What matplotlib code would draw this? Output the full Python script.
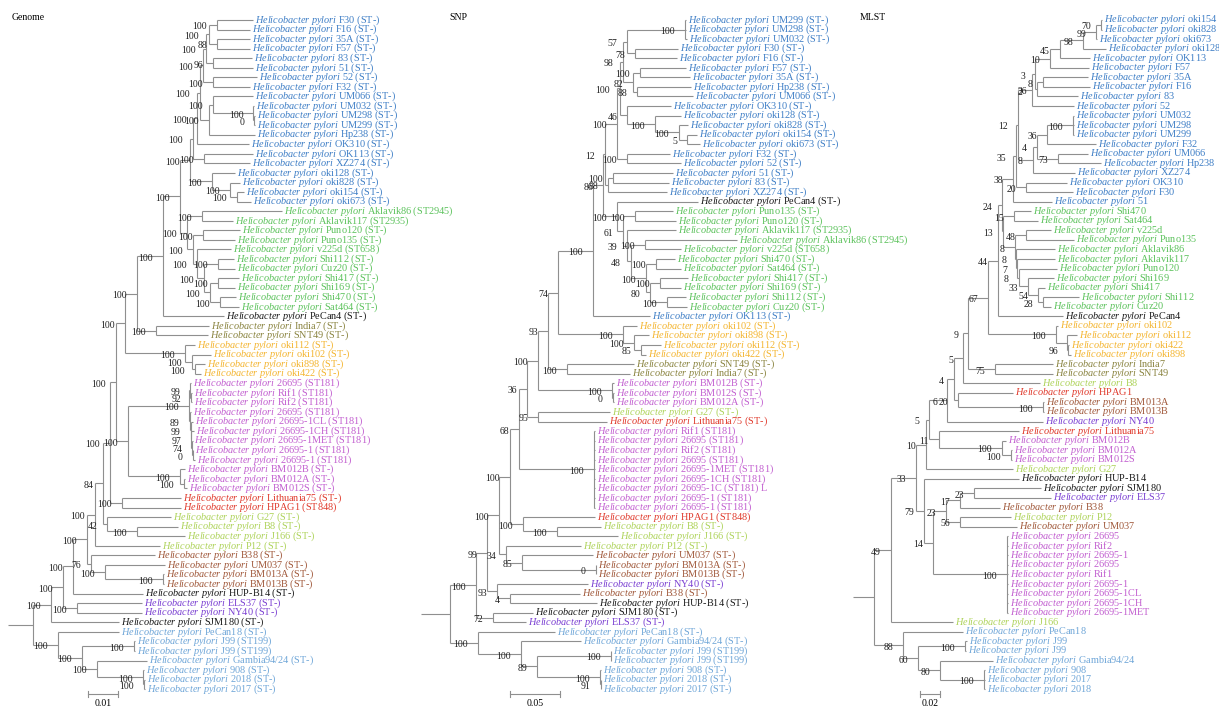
import matplotlib
matplotlib.use("Agg")
import matplotlib.pyplot as plt
from matplotlib.collections import LineCollection

plt.rcParams['font.family'] = ['Liberation Serif', 'DejaVu Serif']
plt.rcParams['mathtext.fontset'] = 'custom'
plt.rcParams['mathtext.rm'] = 'Liberation Serif'
plt.rcParams['mathtext.it'] = 'Liberation Serif:italic'

# ---------------- data: trees (newick, branch lengths, bootstrap values) ----------------
# Genome tree
G_BLUE_A3 = "((F30:0.0120,F16:0.0110)100:0.0027,(35A:0.0110,F57:0.0110)88:0.0027)100"
G_BLUE_A5 = "((" + G_BLUE_A3 + ":0.0010,(83:0.0130,51:0.0133)96:0.0023)100:0.0010,(52:0.0147,F32:0.0123)100:0.0033)100"
G_BLUE_D2 = "((UM066:0.0133,(UM032:0.0003,(UM298:0.0002,UM299:0.0002)0:0.0002)100:0.0135)100:0.0013,Hp238:0.0153)100"
G_BLUE_H = "((" + G_BLUE_A5 + ":0.0010," + G_BLUE_D2 + ":0.0030)100:0.0010,OK310:0.0173)100"
G_BLUE_I = "(" + G_BLUE_H + ":0.0013,(OK113:0.0163,XZ274:0.0153)100:0.0037)100"
G_OKI_E = "(oki128:0.0077,(oki828:0.0033,(oki154:0.0023,oki673:0.0047)100:0.0023)100:0.0060)100"
G_BLUE = "(" + G_BLUE_I + ":0.0010," + G_OKI_E + ":0.0073)100"
G_GREEN = ("((Aklavik86:0.0267,Aklavik117:0.0103)100:0.0050,((Puno120:0.0123,Puno135:0.0107)100:0.0033,"
           "(v225d:0.0113,((Shi112:0.0053,Cuz20:0.0057)100:0.0047,((Shi417:0.0070,Shi169:0.0057)100:0.0027,"
           "(Shi470:0.0053,Sat464:0.0063)100:0.0033)100:0.0020)100:0.0023)100:0.0013)100:0.0020)100")
G_K = ("(((" + G_BLUE + ":0.0033," + G_GREEN + ":0.0023)100:0.0057,PeCan4:0.0203)100:0.0087,"
       "(India7:0.0177,SNT49:0.0173)100:0.0063)100")
G_V1 = "(" + G_K + ":0.0040,(oki112:0.0033,(oki102:0.0063,(oki898:0.0033,oki422:0.0020)100:0.0010)100:0.0023)100:0.0200)100"
G_C26 = ("((26695:0.0002,(Rif1:0.0002,Rif2:0.0002)92:0.0003)99:0.0005,(26695:0.0003,(26695-1CL:0.0007,"
         "(26695-1CH:0.0008,(26695-1MET:0.0002,(26695-1:0.0002,26695-1:0.0008)0:0.0002)74:0.0002)97:0.0002)99:0.0003)89:0.0003)100")
G_M = "(" + G_C26 + ":0.0203,(BM012B:0.0017,(BM012A:0.0003,BM012S:0.0010)100:0.0013)100:0.0173)100"
G_N = "((" + G_V1 + ":0.0030," + G_M + ":0.0040)100:0.0020,(Lithuania75:0.0197,HPAG1:0.0197)100:0.0040)100"
G_W = "(" + G_N + ":0.0023,(G27:0.0213,(B8:0.0137,J166:0.0160)100:0.0100)42:0.0013)84"
G_T = ("((" + G_W + ":0.0027,P12:0.0217)100:0.0027,"
       "(B38:0.0213,(UM037:0.0200,(BM013A:0.0003,BM013B:0.0003)100:0.0193)100:0.0047)76:0.0013)100")
G_U0 = ("(((" + G_T + ":0.0047,HUP-B14:0.0233)100:0.0033,(ELS37:0.0217,NY40:0.0217)100:0.0047)100:0.0040,"
        "SJM180:0.0227)100")
G_L0 = ("(PeCan18:0.0203,((J99:0.0002,J99:0.0002)100:0.0175,(Gambia94/24:0.0167,(908:0.0002,"
        "(2018:0.0002,2017:0.0002)100:0.0003)100:0.0155)100:0.0050)100:0.0080)100")
GENOME = "(" + G_U0 + ":0.0060," + G_L0 + ":0.0083):0.0083;"

# SNP tree
S_A5 = ("(((UM299:0.001,UM298:0.001,UM032:0.002)100:0.058,(F30:0.043,F16:0.042)78:0.008)57:0.004,"
        "((F57:0.046,35A:0.050)100:0.007,(Hp238:0.054,UM066:0.056)88:0.004)82:0.010)98")
S_B4 = "(OK310:0.044,(oki128:0.026,(oki828:0.009,(oki154:0.010,oki673:0.013)5:0.008)100:0.024)100:0.028)46"
S_A8 = ("(((" + S_A5 + ":0.003," + S_B4 + ":0.007)100:0.003,(F32:0.043,52:0.054)100:0.010)100:0.012,"
        "((51:0.060,83:0.056)100:0.005,XZ274:0.059)88:0.003)12")
S_SH = ("((Shi470:0.019,Sat464:0.025)100:0.010,((Shi417:0.028,Shi169:0.021)100:0.010,"
        "(Shi112:0.019,Cuz20:0.020)100:0.017)80:0.004)100")
S_PG = ("(PeCan4:0.081,((Puno135:0.038,Puno120:0.041)100:0.012,(Aklavik117:0.049,"
        "((Aklavik86:0.092,v225d:0.036)100:0.014," + S_SH + ":0.015)48:0.004)39:0.004)61:0.006)100")
S_A100 = "((" + S_A8 + ":0.002," + S_PG + ":0.014)86:0.010,OK113:0.057)100"
S_A74 = "(" + S_A100 + ":0.035,(oki102:0.014,(oki898:0.015,(oki112:0.020,oki422:0.005)85:0.007)100:0.011)100:0.065)74"
S_A12 = ("((" + S_A74 + ":0.010,(SNT49:0.067,India7:0.063)100:0.019)93:0.010,"
         "(BM012B:0.002,(BM012S:0.001,BM012A:0.001)0:0.001)100:0.074)100")
S_C26 = ("(Rif1:0.001,26695:0.001,Rif2:0.001,26695:0.001,26695-1MET:0.001,26695-1CH:0.001,"
         "26695-1C:0.001,26695-1:0.001,26695-1:0.001)100")
S_U3 = ("(((" + S_A12 + ":0.011,(G27:0.072,Lithuania75:0.069)95:0.011)36:0.008," + S_C26 + ":0.075)68:0.009,"
        "(HPAG1:0.072,(B8:0.044,J166:0.061)100:0.034)100:0.013)100")
S_U0 = ("(((" + S_U3 + ":0.011,(P12:0.075,(UM037:0.071,(BM013A:0.0005,BM013B:0.0005)0:0.0735)85:0.016)34:0.007)100:0.012,"
        "(NY40:0.091,(B38:0.070,HUP-B14:0.087)4:0.013)93:0.010)99:0.011,(SJM180:0.040,ELS37:0.033)72:0.017)100")
S_L0 = ("(PeCan18:0.077,(Gambia94/24:0.060,((J99:0.0005,J99:0.0005)100:0.0735,"
        "(908:0.001,(2018:0.0005,2017:0.0005)91:0.0005)100:0.063)89:0.016)100:0.043)100")
SNP = "(" + S_U0 + ":0.026," + S_L0 + ":0.028):0.029;"

# MLST tree
M_K7 = ("(((((((oki154:0.001,oki828:0.001)70:0.005,oki673:0.001)99:0.013,oki128:0.023)98:0.023,OK113:0.030)45:0.010,"
        "F57:0.039)10:0.015,((35A:0.045,F16:0.047)8:0.006,83:0.041)36:0.002)3:0.003,52:0.042)2")
M_N1 = "((((UM032:0.001,UM298:0.001,UM299:0.001)100:0.026,F32:0.049)36:0.010,(UM066:0.030,Hp238:0.043)73:0.021)4:0.004,XZ274:0.042)8"
M_BLUE = "(((" + M_K7 + ":0.014," + M_N1 + ":0.015)12:0.002,(OK310:0.041,F30:0.047)20:0.010)35:0.003,51:0.039)38"
M_GREEN = ("((Shi470:0.017,Sat464:0.024)15:0.011,((v225d:0.025,Puno135:0.048)48:0.011,(Aklavik86:0.039,"
           "(Aklavik117:0.038,(Puno120:0.038,(Shi169:0.026,(Shi417:0.007,(Shi112:0.036,Cuz20:0.008)28:0.005)54:0.010)33:0.009)8:0.002)7:0.001)8:0.001)8:0.012)13")
M_P1 = ("(((" + M_BLUE + ":0.011," + M_GREEN + ":0.001)24:0.004,PeCan4:0.065)44:0.010,"
        "(oki102:0.002,(oki112:0.010,(oki422:0.001,oki898:0.003)96:0.001):0.011)100:0.068)67")
M_X8 = ("((((" + M_P1 + ":0.020,(India7:0.058,SNT49:0.058)75:0.027)9:0.005,B8:0.077)5:0.009,"
        "(HPAG1:0.055,(BM013A:0.001,BM013B:0.001)100:0.085)20:0.004)4:0.007,NY40:0.096)6")
M_X1 = ("((" + M_X8 + ":0.018,(Lithuania75:0.080,(BM012B:0.004,(BM012A:0.001,BM012S:0.001)100:0.009)100:0.063)11:0.010)5:0.003,"
        "G27:0.087)10")
M_C26 = ("(26695:0.001,Rif2:0.001,26695-1:0.001,26695:0.001,Rif1:0.001,26695-1:0.001,"
         "26695-1CL:0.001,26695-1CH:0.001,26695-1MET:0.001)100")
M_X2 = ("(HUP-B14:0.095,((((SJM180:0.067,ELS37:0.077)23:0.014,B38:0.040)17:0.014,(P12:0.051,UM037:0.057)56:0.014)23:0.013,"
        + M_C26 + ":0.074)14:0.009)79")
M_U = "((" + M_X1 + ":0.010," + M_X2 + ":0.008)33:0.025,J166:0.062)49"
M_L0 = ("(PeCan18:0.060,((J99:0.002,J99:0.001)100:0.047,(Gambia94/24:0.053,"
        "(908:0.001,2017:0.001,2018:0.001)100:0.044)80:0.022)60:0.015)88")
MLST = "(" + M_U + ":0.017," + M_L0 + ":0.029):0.021;"

# sequence types shown in the Genome and SNP trees
ST = {"Aklavik86": "ST2945", "Aklavik117": "ST2935", "v225d": "ST658", "HPAG1": "ST848", "J99": "ST199",
      "26695": "ST181", "Rif1": "ST181", "Rif2": "ST181", "26695-1CL": "ST181", "26695-1CH": "ST181",
      "26695-1MET": "ST181", "26695-1": "ST181", "26695-1C": "ST181"}
EXTRA = {"26695-1C": " L"}

# population groups -> colours
GROUPS = [
    (["F30", "F16", "35A", "F57", "83", "51", "52", "F32", "UM066", "UM032", "UM298", "UM299", "Hp238",
      "OK310", "OK113", "XZ274", "oki128", "oki828", "oki154", "oki673"], "#3f7fc6"),
    (["Aklavik86", "Aklavik117", "Puno120", "Puno135", "v225d", "Shi112", "Cuz20", "Shi417", "Shi169",
      "Shi470", "Sat464"], "#5cc25c"),
    (["PeCan4", "HUP-B14", "SJM180"], "#1a1a1a"),
    (["India7", "SNT49"], "#8a8440"),
    (["oki112", "oki102", "oki898", "oki422"], "#f4b530"),
    (["26695", "Rif1", "Rif2", "26695-1CL", "26695-1CH", "26695-1MET", "26695-1", "26695-1C",
      "BM012B", "BM012A", "BM012S"], "#c25fd0"),
    (["Lithuania75", "HPAG1"], "#e03a2c"),
    (["G27", "B8", "J166", "P12"], "#aed35a"),
    (["B38", "UM037", "BM013A", "BM013B"], "#a0583a"),
    (["ELS37", "NY40"], "#7a3fd2"),
    (["PeCan18", "J99", "Gambia94/24", "908", "2018", "2017"], "#6fa6d8"),
]
COLOR = {n: c for names, c in GROUPS for n in names}


def parse(s):
    s = s.strip().rstrip(';')
    pos = 0

    def node():
        nonlocal pos
        n = {'children': [], 'name': '', 'len': 0.0}
        if s[pos] == '(':
            pos += 1
            while True:
                n['children'].append(node())
                if s[pos] == ',':
                    pos += 1
                    continue
                pos += 1  # ')'
                break
        start = pos
        while pos < len(s) and s[pos] not in ',():':
            pos += 1
        n['name'] = s[start:pos].strip()
        if pos < len(s) and s[pos] == ':':
            pos += 1
            start = pos
            while pos < len(s) and s[pos] not in ',()':
                pos += 1
            n['len'] = float(s[start:pos])
        return n
    return node()


def layout(tree):
    leaves = []

    def walk(n, x):
        n['px'] = x
        n['x'] = x + n['len']
        if not n['children']:
            n['y'] = len(leaves)
            leaves.append(n)
        else:
            for c in n['children']:
                walk(c, n['x'])
            n['y'] = (n['children'][0]['y'] + n['children'][-1]['y']) / 2
    walk(tree, 0.0)
    return leaves


FS = 7.4      # leaf labels
FS_B = 7.0    # bootstrap values
W, H = 1219, 706
Y0, DY = 20, 9.56


def draw(ax, tree, with_st):
    layout(tree)
    segs = []
    stack = [tree]
    while stack:
        n = stack.pop()
        segs.append([(n['px'], n['y']), (n['x'], n['y'])])
        if n['children']:
            segs.append([(n['x'], n['children'][0]['y']), (n['x'], n['children'][-1]['y'])])
            if n['name'] and n is not tree:
                ax.annotate(n['name'], (n['x'], n['y']), xytext=(-7.2, -1.5), textcoords='offset points',
                            ha='right', va='center', fontsize=FS_B, color='#222222')
            stack.extend(n['children'])
        else:
            name = n['name']
            txt = name
            if with_st:
                txt = "%s (%s)%s" % (name, ST.get(name, "ST-"), EXTRA.get(name, ""))
            ax.annotate(r"$\mathit{Helicobacter\ pylori}$ " + txt, (n['x'], n['y']), xytext=(1.4, 0),
                        textcoords='offset points', ha='left', va='center', fontsize=FS,
                        color=COLOR.get(name, '#222222'))
    ax.add_collection(LineCollection(segs, colors='#8f8f8f', linewidths=0.8))


def make_axes(fig, px0, px1, origin, upp):
    ax = fig.add_axes([px0 / W, 0, (px1 - px0) / W, 1])
    ax.set_xlim((px0 - origin) * upp, (px1 - origin) * upp)
    ax.set_ylim((H - Y0) / DY, -Y0 / DY)
    ax.axis('off')
    ax.patch.set_visible(False)
    return ax


def scale_bar(ax, x0, length, label):
    y = (694 - Y0) / DY
    ax.plot([x0, x0 + length], [y, y], color='#8f8f8f', lw=0.8)
    for xx in (x0, x0 + length):
        ax.plot([xx, xx], [y - 0.3, y + 0.3], color='#8f8f8f', lw=0.8)
    ax.text(x0 + length / 2, (703 - Y0) / DY, label, ha='center', va='center', fontsize=FS_B)


fig = plt.figure(figsize=(W / 100, H / 100), dpi=100)

ax1 = make_axes(fig, 0, 400, 8, 1 / 3000)
draw(ax1, parse(GENOME), True)
scale_bar(ax1, 80 / 3000, 0.01, "0.01")

ax2 = make_axes(fig, 400, 830, 421, 0.001)
draw(ax2, parse(SNP), True)
scale_bar(ax2, 0.089, 0.05, "0.05")

ax3 = make_axes(fig, 830, 1219, 853, 0.001)
draw(ax3, parse(MLST), False)
scale_bar(ax3, 0.067, 0.02, "0.02")

for x, y, t in [(12, 17, "Genome"), (449, 17, "SNP"), (860, 18, "MLST")]:
    fig.text(x / W, 1 - y / H, t, ha='left', va='center', fontsize=FS_B)

fig.savefig("out.png", dpi=100)
